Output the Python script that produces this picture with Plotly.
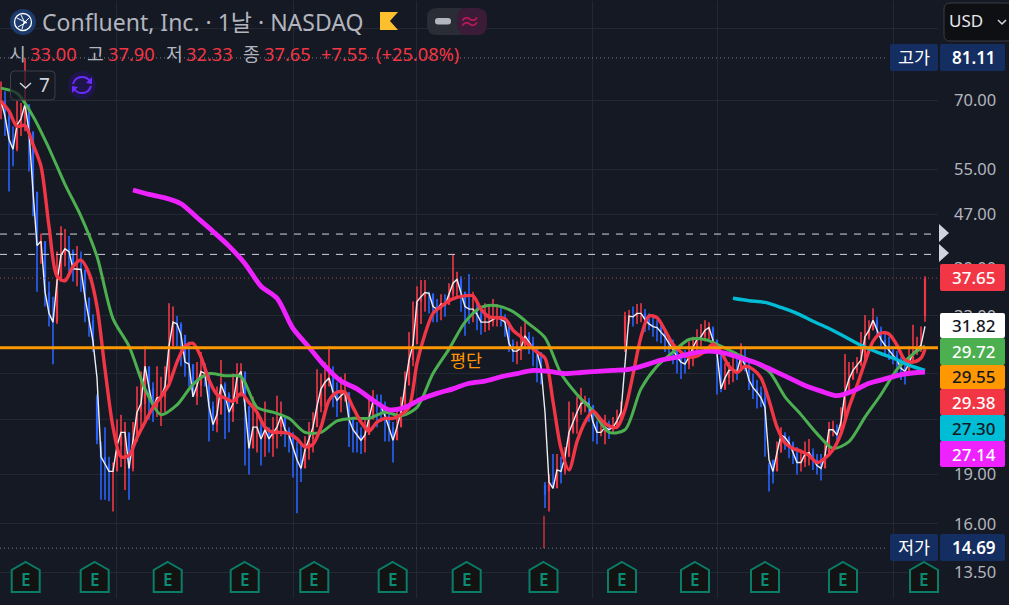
import plotly.graph_objects as go

W, H = 1009, 605
BG = "#151924"
GRID = "#242833"
RED = "#f23645"
BLUE = "#2962ff"
GREEN = "#4caf50"
ORANGE = "#ff9800"
CYAN = "#00bcd4"
MAGENTA = "#ee22ff"
GREY = "#b2b5be"
NAVY = "#142e61"
SANS = "Noto Sans, Noto Sans CJK KR, sans-serif"

# Daily price line, one value per bar
price_line = [
    69.8, 66.2, 61.1, 59.0, 64.2, 65.6, 69.0, 62.8, 50.9, 42.2,
    42.8, 35.9, 33.3, 32.3, 37.2, 40.8, 41.7, 41.3, 38.9, 38.9,
    38.8, 35.2, 32.5, 30.2, 26.6, 20.2, 19.7, 19.2, 19.2, 21.0,
    22.0, 22.0, 19.4, 21.3, 23.6, 24.3, 27.7, 25.7, 24.0, 24.8,
    24.9, 25.8, 29.7, 32.3, 32.1, 30.9, 28.1, 27.9, 24.9, 25.9,
    27.2, 27.0, 24.1, 22.6, 23.4, 26.0, 25.1, 23.6, 24.3, 26.6,
    27.2, 24.1, 20.8, 22.4, 22.4, 21.5, 22.2, 21.5, 21.9, 22.4,
    23.3, 22.2, 21.8, 20.8, 20.0, 19.4, 20.7, 21.5, 22.4, 24.1,
    25.6, 26.2, 26.6, 25.3, 24.6, 25.0, 25.3, 23.0, 22.2, 21.8,
    21.4, 21.8, 23.0, 24.5, 24.3, 24.1, 23.3, 22.4, 21.4, 22.4,
    23.6, 25.9, 28.3, 29.9, 34.7, 35.3, 35.8, 35.7, 34.1, 33.8,
    34.4, 34.3, 35.6, 37.0, 37.5, 35.9, 34.1, 33.8, 33.8, 33.2,
    32.3, 32.3, 32.3, 32.6, 32.8, 32.6, 32.3, 30.0, 29.2, 29.2,
    29.5, 30.8, 30.1, 29.5, 29.1, 27.6, 23.6, 18.5, 18.1, 19.3,
    19.2, 20.2, 22.0, 22.8, 23.6, 24.3, 24.5, 24.2, 22.8, 22.0,
    22.0, 22.4, 22.2, 22.4, 22.9, 23.6, 28.3, 33.0, 32.9, 33.3,
    33.3, 32.6, 32.1, 31.8, 31.7, 31.2, 30.7, 30.0, 29.4, 28.6,
    28.1, 27.9, 28.6, 29.6, 30.4, 30.7, 31.4, 31.7, 30.4, 29.0,
    25.6, 26.6, 27.3, 27.4, 27.2, 28.6, 27.8, 26.4, 25.7, 25.3,
    24.8, 24.0, 20.0, 19.2, 20.5, 21.8, 21.6, 21.2, 20.5, 19.8,
    19.8, 20.4, 20.5, 20.0, 19.6, 19.4, 20.3, 22.2, 22.2, 21.8,
    22.8, 25.3, 26.5, 27.3, 27.8, 28.3, 30.7, 31.4, 32.5, 31.5,
    30.4, 29.8, 29.3, 28.8, 28.3, 27.5, 27.2, 28.0, 29.0, 29.4,
    29.8, 31.82,
]

bar_highs = [
    74.7, 72.2, 67.0, 63.9, 69.8, 69.3, 81.11, 68.5, 56.6, 46.7,
    44.0, 42.8, 37.2, 35.3, 41.3, 45.1, 44.7, 43.6, 41.6, 42.1,
    41.3, 37.9, 34.7, 33.2, 25.1, 21.3, 22.4, 20.2, 19.8, 23.0,
    23.4, 22.8, 21.7, 22.8, 25.8, 27.2, 29.7, 27.2, 26.2, 27.7,
    26.7, 27.7, 34.5, 34.1, 33.0, 32.3, 30.5, 30.2, 27.7, 28.1,
    29.1, 28.0, 26.7, 24.5, 25.8, 28.3, 26.2, 25.3, 27.0, 28.0,
    28.0, 24.9, 22.4, 24.9, 23.6, 23.2, 24.5, 22.4, 23.2, 25.0,
    24.5, 23.2, 22.4, 22.0, 21.3, 21.3, 21.7, 22.8, 23.6, 27.4,
    27.0, 28.1, 29.7, 27.7, 26.2, 26.7, 27.0, 24.9, 23.2, 22.8,
    22.4, 23.2, 24.9, 25.5, 25.1, 25.1, 24.5, 23.6, 22.8, 24.0,
    24.9, 27.2, 31.2, 34.7, 36.6, 37.4, 37.4, 35.9, 35.3, 35.0,
    35.6, 35.6, 37.0, 40.9, 38.5, 37.9, 35.9, 38.2, 35.9, 34.7,
    33.8, 34.5, 34.1, 35.0, 34.4, 34.1, 33.2, 32.1, 30.4, 30.2,
    31.8, 32.3, 31.2, 30.7, 29.7, 28.9, 18.5, 19.0, 20.4, 20.4,
    20.2, 20.9, 24.5, 23.6, 24.9, 25.7, 25.0, 24.8, 24.0, 22.9,
    22.9, 23.4, 22.9, 23.2, 23.8, 24.5, 33.5, 33.7, 34.1, 34.4,
    34.5, 33.8, 33.3, 32.9, 32.5, 32.3, 31.4, 30.7, 30.4, 29.7,
    29.1, 29.3, 30.2, 30.7, 31.5, 32.1, 32.5, 32.3, 31.8, 30.2,
    26.7, 28.0, 28.1, 28.9, 28.9, 30.0, 29.7, 28.0, 27.0, 26.4,
    25.8, 25.8, 19.8, 19.7, 21.3, 22.4, 22.0, 21.7, 21.3, 20.9,
    20.7, 21.3, 21.5, 20.8, 20.4, 20.4, 21.3, 22.8, 22.9, 22.6,
    24.0, 28.9, 28.1, 28.1, 28.6, 31.2, 33.1, 32.5, 33.9, 32.9,
    31.8, 31.2, 30.7, 29.7, 29.2, 28.6, 28.1, 29.7, 32.0, 30.7,
    31.8, 37.90,
]

bar_lows = [
    65.5, 61.8, 50.9, 55.6, 58.6, 61.8, 62.8, 54.6, 46.7, 35.9,
    39.6, 34.1, 31.8, 27.9, 32.1, 39.2, 39.2, 38.5, 37.2, 36.6,
    35.9, 32.3, 30.7, 29.1, 21.1, 17.4, 17.4, 17.3, 16.7, 19.8,
    19.5, 18.0, 17.4, 19.2, 22.8, 22.4, 22.8, 23.0, 22.8, 23.2,
    22.5, 23.6, 28.1, 30.2, 29.7, 27.7, 26.7, 25.8, 25.0, 24.2,
    24.9, 25.8, 21.3, 22.1, 22.0, 24.5, 21.5, 22.0, 22.8, 24.9,
    24.9, 19.6, 19.0, 21.3, 20.5, 19.6, 20.2, 20.5, 20.2, 20.8,
    21.7, 20.9, 20.5, 18.8, 16.6, 18.5, 20.0, 20.0, 20.5, 24.0,
    23.6, 24.0, 25.8, 24.0, 23.2, 23.6, 24.5, 20.9, 20.5, 20.5,
    20.4, 20.5, 22.0, 23.2, 22.4, 22.8, 21.3, 21.3, 19.8, 21.7,
    22.4, 24.0, 27.7, 27.7, 32.3, 32.1, 33.5, 33.3, 32.3, 32.3,
    32.5, 32.9, 34.5, 35.3, 35.3, 33.5, 30.8, 32.1, 32.3, 31.4,
    30.9, 31.2, 31.4, 31.8, 31.8, 31.8, 30.7, 29.1, 28.1, 27.9,
    28.3, 29.7, 28.9, 27.7, 26.2, 26.0, 16.9, 16.7, 18.1, 18.5,
    18.4, 19.0, 20.9, 21.9, 21.9, 23.4, 23.6, 22.8, 21.3, 21.1,
    21.7, 21.1, 21.5, 21.9, 22.4, 22.8, 29.1, 32.1, 31.8, 32.1,
    32.3, 31.2, 31.4, 30.7, 30.2, 30.0, 29.1, 28.6, 27.9, 27.0,
    26.5, 27.0, 27.4, 27.7, 29.1, 29.7, 30.2, 30.4, 29.1, 25.1,
    25.3, 25.5, 26.0, 26.2, 26.4, 27.4, 27.2, 25.5, 24.7, 23.9,
    24.0, 20.2, 17.9, 18.4, 19.7, 20.9, 20.7, 20.1, 19.7, 19.0,
    19.2, 19.5, 19.6, 19.3, 19.0, 18.6, 19.5, 21.4, 21.7, 21.4,
    22.1, 24.5, 25.8, 26.4, 27.0, 27.7, 29.7, 30.4, 31.4, 30.7,
    29.7, 28.6, 28.3, 27.9, 27.0, 26.4, 26.0, 27.0, 28.3, 28.8,
    29.1, 32.33,
]

# Bars whose open and close sit away from the price line: (open, close)
gap_bars = {
    24: (24.9, 21.4), 25: (21.0, 20.0), 136: (18.3, 17.7), 137: (17.9, 18.5),
    156: (30.0, 33.0), 157: (32.4, 33.0), 192: (19.6, 19.0), 231: (33.00, 37.65),
}

# Detached lower wick that reaches the period low
low_wick_bar = 135.75
low_wick = [16.45, 14.69]

green_avg = [
    73.0, 71.7, 66.2, 59.2, 52.2, 46.7, 40.6, 32.7, 29.7, 25.6,
    23.4, 24.2, 26.0, 27.0, 26.8, 26.7, 24.0, 23.6, 23.1, 22.0,
    22.0, 22.9, 23.1, 23.1, 23.6, 23.3, 24.0, 27.0, 29.4, 32.3,
    34.0, 34.2, 33.5, 32.1, 30.6, 27.0, 25.1, 23.7, 22.0, 22.2,
    25.6, 27.7, 29.1, 30.4, 30.4, 29.7, 28.9, 28.1, 27.2, 24.9,
    23.4, 21.9, 20.8, 21.3, 23.2, 25.1, 27.4, 28.9, 29.72,
]
green_bars = list(range(0, 232, 4)) + [231]

red_avg = [
    69.8, 67.4, 63.9, 64.1, 60.0, 55.6, 45.1, 37.9, 37.3, 39.2,
    40.1, 38.3, 34.1, 27.4, 22.4, 20.2, 20.3, 21.6, 22.8, 24.0,
    24.9, 26.0, 28.1, 29.7, 30.0, 28.6, 26.4, 25.1, 24.8, 24.5,
    25.2, 24.4, 23.6, 22.4, 22.0, 22.0, 21.9, 21.5, 20.9, 21.1,
    22.4, 24.6, 25.3, 25.3, 24.0, 22.8, 22.1, 22.8, 23.1, 23.1,
    23.4, 24.0, 28.0, 31.0, 33.3, 34.1, 34.8, 35.2, 35.4, 35.4,
    33.8, 32.9, 32.8, 32.7, 31.4, 30.7, 29.8, 29.1, 28.5, 24.5,
    20.8, 19.3, 21.3, 22.8, 23.7, 23.0, 22.5, 22.4, 23.8, 26.9,
    30.7, 33.0, 32.8, 31.4, 29.9, 29.1, 28.6, 28.7, 29.2, 29.9,
    29.1, 27.7, 27.1, 27.7, 27.4, 26.6, 24.6, 22.4, 21.2, 20.8,
    20.6, 20.3, 19.8, 20.1, 20.7, 21.9, 24.0, 25.9, 28.1, 30.2,
    31.1, 31.0, 29.8, 28.3, 28.1, 28.5, 29.38,
]
red_bars = list(range(0, 232, 2)) + [231]

magenta_avg = [
    51.2, 50.4, 49.8, 48.8, 46.5, 44.3, 42.1, 39.6, 36.6, 35.1,
    31.6, 29.6, 27.7, 26.3, 25.6, 24.6, 23.8, 24.0, 24.7, 25.2,
    25.6, 26.1, 26.3, 26.7, 27.0, 27.3, 27.2, 27.0, 27.1, 27.2,
    27.3, 27.4, 27.8, 28.3, 28.6, 29.0, 29.2, 29.0, 28.5, 28.0,
    27.3, 26.6, 25.9, 25.4, 25.0, 25.4, 26.1, 26.5, 26.9, 27.1,
    27.14,
]
magenta_bars = list(range(33, 232, 4)) + [231]

cyan_avg = [35.1, 34.8, 34.6, 34.0, 33.3, 32.4, 31.6, 30.7, 29.8, 29.1, 28.5, 27.8, 27.30]
cyan_bars = list(range(183, 232, 4))

avg_cost = 29.55
period_high = 81.11
period_low = 14.69
last_close = 37.65
level_a = 43.9
level_b = 40.9

# Labels at 23, 27 and 90 stay blank because tags and the currency button sit on them
y_ticks = [13.5, 16, 19, 23, 27, 33, 39, 47, 55, 70, 90]
y_tick_labels = ["13.50", "16.00", "19.00", "", "", "33.00", "39.00", "47.00", "55.00", "70.00", ""]
x_grid_bars = [28.75, 73, 103.75, 147.75, 179, 223]
x_range = [-0.25, 234.25]

price_tags = [
    ("37.65", 264, 291, RED, "white"),
    ("31.82", 313, 338, "#ffffff", "#131722"),
    ("29.72", 338, 365, GREEN, "white"),
    ("29.55", 365, 389, ORANGE, "#131722"),
    ("29.38", 389, 415, RED, "white"),
    ("27.30", 415, 441, CYAN, "#131722"),
    ("27.14", 441, 467, MAGENTA, "white"),
]
earnings_x = [25.7, 94.7, 167.7, 244.7, 314.3, 392.7, 466.7, 543.5, 622, 695, 765, 843, 924]
legend_runs = [
    ("시", 7, GREY), ("33.00", 28, RED), ("고", 85, GREY), ("37.90", 106, RED),
    ("저", 164, GREY), ("32.33", 184, RED), ("종", 241, GREY), ("37.65", 262, RED),
    ("+7.55", 319, RED), ("(+25.08%)", 374, RED),
]

candle_open = [price_line[i - 1] if i else price_line[0] for i in range(len(price_line))]
candle_close = list(price_line)
for bar, (o, c) in gap_bars.items():
    candle_open[bar], candle_close[bar] = o, c

fig = go.Figure()


def candle_layer(rising, color):
    """Wicks and bodies of the rising or falling bars as broken line segments."""
    wx, wy, bx, by = [], [], [], []
    for i, (o, hi, lo, c) in enumerate(zip(candle_open, bar_highs, bar_lows, candle_close)):
        if (c >= o) != rising:
            continue
        wx += [i, i, None]
        wy += [lo, hi, None]
        bx += [i, i, None]
        by += [o, c, None]
    fig.add_trace(go.Scatter(x=wx, y=wy, mode="lines", line=dict(color=color, width=1.6)))
    fig.add_trace(go.Scatter(x=bx, y=by, mode="lines", line=dict(color=color, width=2.2)))


candle_layer(False, BLUE)
candle_layer(True, RED)
fig.add_trace(go.Scatter(x=[low_wick_bar] * 2, y=low_wick, mode="lines", line=dict(color=RED, width=1.2)))
fig.add_trace(go.Scatter(x=list(range(len(price_line))), y=price_line, mode="lines",
                         line=dict(color="#eeeef2", width=1.4)))


def hline(value, last_bar, color, dash, width=1):
    fig.add_trace(go.Scatter(x=[x_range[0], last_bar], y=[value, value], mode="lines",
                             line=dict(color=color, width=width, dash=dash)))


hline(period_high, 221.75, "#787b86", "1px,3px")
hline(period_low, 221.75, "#787b86", "1px,3px")
hline(last_close, x_range[1], "#a8434f", "1px,3px")
hline(level_a, x_range[1], "#d1d4dc", "7px,7px")
hline(level_b, x_range[1], "#d1d4dc", "7px,7px")

for bars, values, color, width in [
    (green_bars, green_avg, GREEN, 3),
    (red_bars, red_avg, RED, 3.4),
    (cyan_bars, cyan_avg, CYAN, 3.4),
    (magenta_bars, magenta_avg, MAGENTA, 4.8),
]:
    fig.add_trace(go.Scatter(x=bars, y=values, mode="lines",
                             line=dict(color=color, width=width, shape="spline", smoothing=0.8)))
hline(avg_cost, x_range[1], ORANGE, "solid", 3)


def px(x):
    return x / W


def py(y):
    return 1 - y / H


def path(points, close=True):
    d = "M " + " L ".join(f"{px(x):.5f},{py(y):.5f}" for x, y in points)
    return d + (" Z" if close else "")


def rounded(x0, y0, x1, y1, r):
    c = lambda x, y: f"{px(x):.5f},{py(y):.5f}"
    return (f"M {c(x0 + r, y0)} L {c(x1 - r, y0)} Q {c(x1, y0)} {c(x1, y0 + r)} "
            f"L {c(x1, y1 - r)} Q {c(x1, y1)} {c(x1 - r, y1)} L {c(x0 + r, y1)} "
            f"Q {c(x0, y1)} {c(x0, y1 - r)} L {c(x0, y0 + r)} Q {c(x0, y0)} {c(x0 + r, y0)} Z")


shapes = []
notes = []


def shape(d, fill=None, stroke=None, width=1):
    shapes.append(dict(type="path", path=d, xref="paper", yref="paper",
                       fillcolor=fill or "rgba(0,0,0,0)",
                       line=dict(color=stroke or "rgba(0,0,0,0)", width=width if stroke else 0)))


def label(text, x, y, size, color, anchor="left", weight=None):
    font = dict(family=SANS, size=size, color=color)
    if weight:
        font["weight"] = weight
    notes.append(dict(text=text, x=px(x), y=py(y), xref="paper", yref="paper", showarrow=False,
                      xanchor=anchor, yanchor="middle", font=font))


def circle(cx, cy, r, fill=None, stroke=None, width=1):
    shapes.append(dict(type="circle", xref="paper", yref="paper",
                       x0=px(cx - r), x1=px(cx + r), y0=py(cy + r), y1=py(cy - r),
                       fillcolor=fill or "rgba(0,0,0,0)",
                       line=dict(color=stroke or "rgba(0,0,0,0)", width=width if stroke else 0)))


# Right-hand price tags
for text, y0, y1, fill, ink in price_tags:
    shape(rounded(940, y0, 1005, y1, 2), fill)
    label(text, 974, (y0 + y1) / 2, 17, ink, "center", 500)
shape(rounded(890, 44, 938, 71, 2), NAVY)
shape(rounded(940, 44, 1005, 71, 2), NAVY)
label("고가", 914, 57, 17.5, "white", "center")
label("81.11", 974, 57, 17, "white", "center", 600)
shape(rounded(890, 534, 938, 561, 2), NAVY)
shape(rounded(940, 534, 1005, 561, 2), NAVY)
label("저가", 914, 547, 17.5, "white", "center")
label("14.69", 974, 547, 17, "white", "center", 600)

# Level handles beside the dashed lines
for y in (233, 253):
    shape(path([(939, y - 9), (949, y), (939, y + 9)]), "#d1d4dc")

# Currency selector
shape(rounded(944, 3, 1012, 41, 6), "#0e0f12", "#3a3c42", 1)
label("USD", 947, 21, 17, "#e8e8ee")
shape(path([(998, 20), (1002, 24), (1006, 20)], close=False), None, "#d1d4dc", 1.5)

# Earnings markers
for cx in earnings_x:
    shape(path([(cx, 562), (cx + 14, 570), (cx + 14, 592), (cx - 14, 592), (cx - 14, 570)]),
          "#131313", "#0a7d69", 2)
    label("E", cx, 579, 17, "#0b8a74", "center", 600)

# Symbol header
circle(23, 22, 13, "#1d3a6d")
circle(23, 22, 8.5, None, "white", 1.3)
for a, b in [((17, 18), (27, 23)), ((18, 27), (27, 22)), ((21, 15), (25, 23)), ((29, 18), (24, 23)), ((22, 29), (24, 22))]:
    shape(path([a, b], close=False), None, "white", 1)
label("Confluent, Inc. · 1날 · NASDAQ", 40, 22, 23, GREY)
shape(path([(380, 12), (398, 12), (390, 21), (398, 30), (380, 30)]), "#fcc02e")
shape(rounded(427, 8, 470, 35, 10), "#2a2d35")
shape(rounded(457, 8, 487, 35, 10), "#3b1c38")
shape(rounded(435, 18, 451, 24.5, 3), GREY)
label("≈", 469, 21, 21, "#c2185b", "center")
for text, x, color in legend_runs:
    label(text, x, 54, 18.3, color)

# Collapsed indicator counter and refresh button
shape(rounded(10.5, 71, 55, 100, 4), "rgba(21,25,36,0.72)", "#3d3f47", 1)
shape(path([(20, 83), (25.5, 88), (31, 83)], close=False), None, "#d1d4dc", 1.4)
label("7", 44, 85, 19, "#d1d4dc", "center")
circle(82, 85, 14, "#1e1648")
c2 = lambda x, y: f"{px(x):.5f},{py(y):.5f}"
shape(f"M {c2(73, 84)} Q {c2(75, 77)} {c2(82, 77)} Q {c2(87, 77)} {c2(90, 81)}", None, "#6a2cff", 2)
shape(f"M {c2(91, 86)} Q {c2(89, 93)} {c2(82, 93)} Q {c2(77, 93)} {c2(74, 89)}", None, "#6a2cff", 2)
shape(path([(92, 77), (92, 84), (86, 83)]), "#6a2cff")
shape(path([(72, 93), (72, 86), (78, 87)]), "#6a2cff")

label("평단", 466, 360, 17.5, ORANGE, "center")

fig.update_layout(
    width=W, height=H, autosize=False, margin=dict(l=0, r=0, t=0, b=0, pad=0),
    paper_bgcolor=BG, plot_bgcolor=BG, showlegend=False, hovermode=False,
    shapes=shapes, annotations=notes,
    xaxis=dict(domain=[0, 938 / W], range=x_range, showticklabels=False, tickmode="array",
               tickvals=x_grid_bars, gridcolor=GRID, gridwidth=1, zeroline=False, showline=False,
               ticks="", fixedrange=True),
    yaxis=dict(domain=[7 / H, 604 / H], type="log", range=[1.0917, 1.9952], side="right", tickmode="array",
               tickvals=y_ticks, ticktext=y_tick_labels, gridcolor=GRID, gridwidth=1, zeroline=False,
               showline=False, ticks="", ticklabelstandoff=15, fixedrange=True,
               tickfont=dict(family=SANS, size=16.5, color=GREY)),
)
fig.write_html("out.html", config=dict(displayModeBar=False))
